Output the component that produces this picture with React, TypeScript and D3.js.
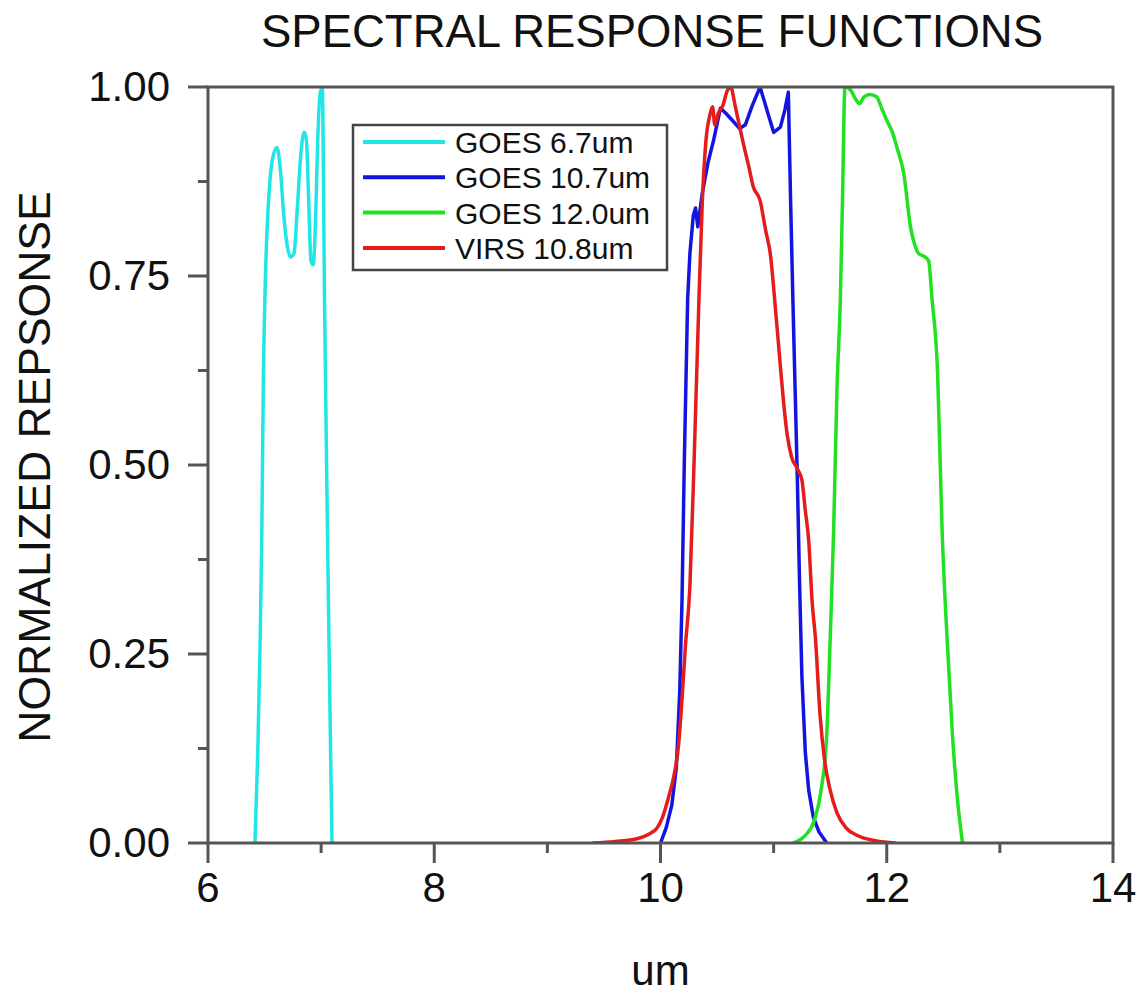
import React, { useRef, useEffect } from "react";
import * as d3 from "d3";

// Spectral response functions (wavelength in um, normalized response)
const goes67X = [6.415, 6.44, 6.46, 6.475, 6.49, 6.51, 6.54, 6.57, 6.61, 6.64, 6.67, 6.70, 6.73, 6.76, 6.79, 6.82, 6.85, 6.87, 6.89, 6.91, 6.93, 6.95, 6.97, 6.99, 7.01, 7.03, 7.05, 7.07, 7.096];
const goes67Y = [0, 0.12, 0.26, 0.40, 0.62, 0.76, 0.86, 0.905, 0.92, 0.89, 0.83, 0.79, 0.775, 0.78, 0.84, 0.91, 0.94, 0.93, 0.85, 0.77, 0.765, 0.82, 0.93, 0.99, 1.0, 0.72, 0.48, 0.26, 0];

const goes107X = [10.0, 10.05, 10.10, 10.14, 10.17, 10.19, 10.21, 10.24, 10.26, 10.29, 10.31, 10.33, 10.37, 10.42, 10.47, 10.53, 10.58, 10.64, 10.70, 10.75, 10.81, 10.88, 10.94, 11.0, 11.06, 11.10, 11.13, 11.15, 11.17, 11.19, 11.21, 11.23, 11.25, 11.28, 11.31, 11.35, 11.40, 11.47];
const goes107Y = [0, 0.02, 0.05, 0.10, 0.20, 0.32, 0.50, 0.72, 0.78, 0.83, 0.84, 0.815, 0.86, 0.90, 0.93, 0.972, 0.965, 0.955, 0.945, 0.95, 0.975, 1.0, 0.97, 0.94, 0.947, 0.97, 0.993, 0.85, 0.72, 0.60, 0.48, 0.34, 0.22, 0.12, 0.07, 0.035, 0.015, 0];

const goes120X = [11.17, 11.28, 11.36, 11.42, 11.47, 11.50, 11.53, 11.56, 11.59, 11.61, 11.63, 11.68, 11.72, 11.76, 11.80, 11.85, 11.91, 11.96, 12.0, 12.05, 12.09, 12.15, 12.21, 12.25, 12.28, 12.34, 12.37, 12.40, 12.45, 12.49, 12.53, 12.58, 12.63, 12.67];
const goes120Y = [0, 0.01, 0.03, 0.07, 0.145, 0.27, 0.41, 0.60, 0.72, 0.86, 1.0, 0.996, 0.985, 0.978, 0.987, 0.99, 0.987, 0.97, 0.956, 0.94, 0.92, 0.886, 0.815, 0.79, 0.78, 0.775, 0.77, 0.72, 0.62, 0.41, 0.28, 0.145, 0.05, 0];

const virs108X = [9.40, 9.60, 9.80, 9.90, 9.97, 10.02, 10.07, 10.12, 10.16, 10.19, 10.22, 10.26, 10.30, 10.34, 10.37, 10.40, 10.44, 10.46, 10.48, 10.51, 10.55, 10.59, 10.62, 10.66, 10.70, 10.74, 10.78, 10.82, 10.88, 10.93, 10.97, 11.02, 11.06, 11.09, 11.12, 11.16, 11.21, 11.25, 11.28, 11.31, 11.34, 11.37, 11.41, 11.45, 11.50, 11.56, 11.64, 11.74, 11.90, 12.08];
const virs108Y = [0, 0.002, 0.006, 0.012, 0.02, 0.035, 0.06, 0.09, 0.13, 0.19, 0.26, 0.34, 0.52, 0.72, 0.85, 0.926, 0.965, 0.974, 0.95, 0.965, 0.975, 0.995, 1.0, 0.975, 0.947, 0.92, 0.895, 0.868, 0.85, 0.81, 0.78, 0.70, 0.63, 0.58, 0.54, 0.51, 0.495, 0.48, 0.44, 0.40, 0.32, 0.27, 0.17, 0.11, 0.07, 0.04, 0.02, 0.01, 0.003, 0];

const seriesNames = ["GOES 6.7um", "GOES 10.7um", "GOES 12.0um", "VIRS 10.8um"];
const seriesColors = ["#22e6e6", "#1414e0", "#22e022", "#e41c1c"];

const xMajorTicks = [6, 8, 10, 12, 14];
const xMinorTicks = [7, 9, 11, 13];
const yMajorTicks = [0, 0.25, 0.5, 0.75, 1.0];
const yMinorTicks = [0.125, 0.375, 0.625, 0.875];

const FONT = "'Liberation Sans', Arial, Helvetica, sans-serif";

const SpectralChart = ({ width = 1145, height = 1000 }) => {
  const d3Container = useRef(null);

  useEffect(() => {
    const container = d3Container.current;
    if (!container) return;
    const margin = { top: 87, right: 32, bottom: 157, left: 208 };
    const chart_width = width - margin.left - margin.right;
    const chart_height = height - margin.top - margin.bottom;

    d3.select(container).selectChildren().remove();

    const x = d3.scaleLinear().domain([6, 14]).range([0, chart_width]);
    const y = d3.scaleLinear().domain([0, 1]).range([chart_height, 0]);

    const svg = d3
      .select(container)
      .append("g")
      .attr("transform", `translate(${margin.left}, ${margin.top})`)
      .style("font-family", FONT);

    // Title
    d3.select(container)
      .append("text")
      .attr("x", 652)
      .attr("y", 47)
      .attr("text-anchor", "middle")
      .style("font-family", FONT)
      .style("font-size", "45.5px")
      .attr("fill", "#111")
      .text("SPECTRAL RESPONSE FUNCTIONS");

    // Clip
    svg
      .append("clipPath")
      .attr("id", "plot-clip")
      .append("rect")
      .attr("x", 0)
      .attr("y", 0)
      .attr("width", chart_width)
      .attr("height", chart_height);

    // Curves
    const series = [
      { xs: goes67X, ys: goes67Y, curve: d3.curveMonotoneX },
      { xs: goes107X, ys: goes107Y, curve: d3.curveLinear },
      { xs: goes120X, ys: goes120Y, curve: d3.curveMonotoneX },
      { xs: virs108X, ys: virs108Y, curve: d3.curveMonotoneX },
    ];
    const plot = svg.append("g").attr("clip-path", "url(#plot-clip)");
    series.forEach((s, i) => {
      const pts = s.xs.map((v, j) => [v, s.ys[j]]);
      const line = d3
        .line()
        .x((d) => x(d[0]))
        .y((d) => y(d[1]))
        .curve(s.curve);
      plot
        .append("path")
        .attr("d", line(pts))
        .attr("fill", "none")
        .attr("stroke", seriesColors[i])
        .attr("stroke-width", 3.5)
        .attr("stroke-linejoin", "round");
    });

    // Frame
    svg
      .append("rect")
      .attr("x", 0)
      .attr("y", 0)
      .attr("width", chart_width)
      .attr("height", chart_height)
      .attr("fill", "none")
      .attr("stroke", "#555")
      .attr("stroke-width", 3);

    // X axis ticks
    const xAxis = svg.append("g").attr("stroke", "#555").attr("stroke-width", 3);
    xMajorTicks.forEach((t) => {
      xAxis.append("line").attr("x1", x(t)).attr("x2", x(t)).attr("y1", chart_height).attr("y2", chart_height + 20);
    });
    xMinorTicks.forEach((t) => {
      xAxis.append("line").attr("x1", x(t)).attr("x2", x(t)).attr("y1", chart_height).attr("y2", chart_height + 10);
    });
    svg
      .selectAll(".xlabel")
      .data(xMajorTicks)
      .enter()
      .append("text")
      .attr("x", (d) => x(d))
      .attr("y", chart_height + 59)
      .attr("text-anchor", "middle")
      .style("font-size", "42px")
      .attr("fill", "#111")
      .text((d) => d);

    // Y axis ticks
    const yAxis = svg.append("g").attr("stroke", "#555").attr("stroke-width", 3);
    yMajorTicks.forEach((t) => {
      yAxis.append("line").attr("x1", -20).attr("x2", 0).attr("y1", y(t)).attr("y2", y(t));
    });
    yMinorTicks.forEach((t) => {
      yAxis.append("line").attr("x1", -10).attr("x2", 0).attr("y1", y(t)).attr("y2", y(t));
    });
    svg
      .selectAll(".ylabel")
      .data(yMajorTicks)
      .enter()
      .append("text")
      .attr("x", -38)
      .attr("y", (d) => y(d) + 14)
      .attr("text-anchor", "end")
      .style("font-size", "42px")
      .attr("fill", "#111")
      .text((d) => d3.format(".2f")(d));

    // Axis titles
    svg
      .append("text")
      .attr("x", chart_width / 2)
      .attr("y", chart_height + 142)
      .attr("text-anchor", "middle")
      .style("font-size", "42px")
      .attr("fill", "#111")
      .text("um");
    svg
      .append("text")
      .attr("transform", `translate(${50 - margin.left}, ${chart_height / 2 + 2}) rotate(-90)`)
      .attr("text-anchor", "middle")
      .style("font-size", "44.5px")
      .attr("fill", "#111")
      .text("NORMALIZED REPSONSE");

    // Legend
    const lg = svg.append("g").attr("transform", `translate(${353 - margin.left}, ${125 - margin.top})`);
    lg.append("rect")
      .attr("x", 0)
      .attr("y", 0)
      .attr("width", 314)
      .attr("height", 145)
      .attr("fill", "white")
      .attr("stroke", "#444")
      .attr("stroke-width", 2.5);
    seriesNames.forEach((name, i) => {
      const ly = 17 + i * 35.3;
      lg.append("line")
        .attr("x1", 10)
        .attr("x2", 92)
        .attr("y1", ly)
        .attr("y2", ly)
        .attr("stroke", seriesColors[i])
        .attr("stroke-width", 4);
      lg.append("text")
        .attr("x", 102)
        .attr("y", ly + 11)
        .style("font-size", "30px")
        .attr("fill", "#111")
        .text(name);
    });
  }, [width, height]);

  return (
    <svg
      ref={d3Container}
      width={width}
      height={height}
      style={{ position: "absolute", left: 0, top: 0, background: "white" }}
    />
  );
};

export default function App() {
  return <SpectralChart />;
}
